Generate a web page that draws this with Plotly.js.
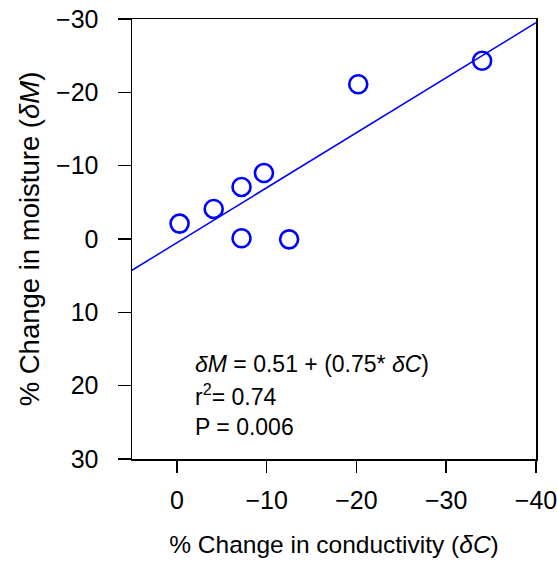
<!DOCTYPE html>
<html>
<head>
<meta charset="utf-8">
<script src="https://cdn.plot.ly/plotly-3.0.1.min.js"></script>
<style>html,body{margin:0;padding:0;background:#fff;}#chart{width:557px;height:573px;}</style>
</head>
<body>
<div id="chart"></div>
<script>
// Data
const conductivityChange = [-0.3, -4.1, -7.2, -9.7, -7.2, -12.5, -20.2, -34.0];
const moistureChange     = [-2.1, -4.1, -7.1, -9.0, -0.1, 0.05, -21.1, -24.3];
const fitIntercept = 0.51;
const fitSlope = 0.75;
const fitX = [5, -40];
const xTicks = [0, -10, -20, -30, -40];
const yTicks = [-30, -20, -10, 0, 10, 20, 30];
const statLines = [
  "<i>δM</i> = 0.51 + (0.75* <i>δC</i>)",
  "r<sup>2</sup>= 0.74",
  "P = 0.006"
];

const fitY = fitX.map(x => fitIntercept + fitSlope * x);
const FONT = "Liberation Sans, Arial, sans-serif";
const lbl = v => String(v).replace("-", "\u2212");

const traces = [
  {
    x: fitX, y: fitY, type: "scatter", mode: "lines",
    line: {color: "#0000ff", width: 1.5}, hoverinfo: "skip", showlegend: false, cliponaxis: true
  },
  {
    x: conductivityChange, y: moistureChange, type: "scatter", mode: "markers",
    marker: {symbol: "circle-open", size: 18, color: "#0000ff", line: {width: 2.6, color: "#0000ff"}},
    showlegend: false, cliponaxis: false
  }
];

const statY = [0.216, 0.145, 0.073];
const annotations = statLines.map((t, i) => ({
  text: t, xref: "paper", yref: "paper", x: 0.151, y: statY[i],
  xanchor: "left", yanchor: "middle", showarrow: false, align: "left",
  font: {family: FONT, size: 23, color: "#000"}
}));

const layout = {
  width: 557, height: 573,
  margin: {l: 132, r: 21, t: 19, b: 114},
  paper_bgcolor: "#fff", plot_bgcolor: "#fff",
  showlegend: false,
  font: {family: FONT, color: "#000"},
  xaxis: {
    range: [5, -40], tickvals: xTicks, ticktext: xTicks.map(lbl),
    ticks: "outside", ticklen: 12, tickwidth: 1.5, tickcolor: "#000",
    showline: true, linecolor: "#000", linewidth: 1.5, mirror: true,
    showgrid: false, zeroline: false, ticklabelstandoff: 6,
    ticklabeloverflow: "allow",
    tickfont: {family: FONT, size: 25, color: "#000"},
    title: {text: "% Change in conductivity (<i>δC</i>)", font: {family: FONT, size: 24.5, color: "#000"}, standoff: 23}
  },
  yaxis: {
    range: [30, -30], tickvals: yTicks, ticktext: yTicks.map(lbl),
    ticks: "outside", ticklen: 13, tickwidth: 1.5, tickcolor: "#000",
    showline: true, linecolor: "#000", linewidth: 1.5, mirror: true,
    showgrid: false, zeroline: false, ticklabelstandoff: 14,
    ticklabeloverflow: "allow",
    tickfont: {family: FONT, size: 25, color: "#000"},
    title: {text: "% Change in moisture (<i>δM</i>)", font: {family: FONT, size: 27.5, color: "#000"}, standoff: 8}
  },
  annotations: annotations
};

Plotly.newPlot("chart", traces, layout, {displayModeBar: false, staticPlot: true});
</script>
</body>
</html>
